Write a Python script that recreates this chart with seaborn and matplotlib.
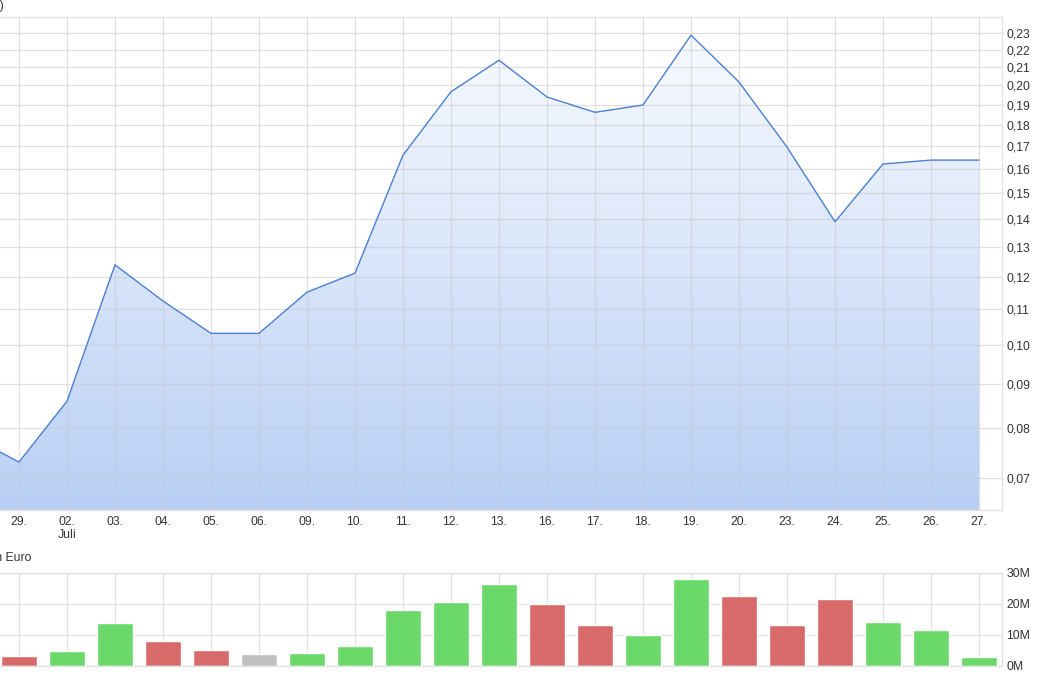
import numpy as np
import pandas as pd
import seaborn as sns
import matplotlib
matplotlib.use("Agg")
from matplotlib import pyplot as plt
from matplotlib.colors import LinearSegmentedColormap
from matplotlib.ticker import FixedLocator, NullLocator, FuncFormatter

# data (28. June is just outside the left edge)
days = ["28.", "29.", "02.\nJuli", "03.", "04.", "05.", "06.", "09.", "10.", "11.", "12.",
        "13.", "16.", "17.", "18.", "19.", "20.", "23.", "24.", "25.", "26.", "27."]
price = [0.0782, 0.0731, 0.0860, 0.1238, 0.1124, 0.1031, 0.1031, 0.1151, 0.1211, 0.1660, 0.1966,
         0.2139, 0.1939, 0.1861, 0.1898, 0.2287, 0.2018, 0.1696, 0.1389, 0.1621, 0.1638, 0.1638]
volume_m = [np.nan, 3.2, 4.6, 13.6, 7.8, 4.9, 3.6, 4.0, 6.2, 17.9, 20.5,
            26.3, 19.9, 13.1, 9.9, 27.9, 22.4, 13.1, 21.4, 13.9, 11.3, 2.6]
direction = ["up", "down", "up", "up", "down", "down", "flat", "up", "up", "up", "up",
             "up", "down", "down", "up", "up", "down", "down", "down", "up", "up", "up"]
price_ticks = [0.07, 0.08, 0.09, 0.10, 0.11, 0.12, 0.13, 0.14, 0.15, 0.16, 0.17,
               0.18, 0.19, 0.20, 0.21, 0.22, 0.23]
vol_ticks = [0, 10, 20, 30]

sns.set_style("white")
plt.rcParams["font.family"] = ["Liberation Sans", "DejaVu Sans"]

W, H = 1053, 679
fig = plt.figure(figsize=(W / 100, H / 100), dpi=100)

grid_col = "#e2e2e2"
text_col = "#333333"
fs = 8.8
x = np.arange(len(days))
xlim = (29 / 48, 1031 / 48)

df = pd.DataFrame({"day": days, "x": x, "price": price,
                   "volume": np.array(volume_m) * 1e6, "dir": direction})

# price panel
ax = fig.add_axes([0, (H - 510) / H, 1002 / W, 493 / H])
ax.set_yscale("log")
ymin, ymax = 0.0643, 0.2401

poly = ax.fill_between(df["x"], df["price"], ymin, facecolor="none", edgecolor="none")
cmap = LinearSegmentedColormap.from_list("fill", ["#b8cff5", "#fafcff"])
grad = np.linspace(0, 1, 256).reshape(-1, 1)
img = ax.imshow(grad, extent=[0, 1, 0, 1], transform=ax.transAxes, origin="lower",
                aspect="auto", cmap=cmap, zorder=1)
img.set_clip_path(poly.get_paths()[0], transform=ax.transData)

sns.lineplot(data=df, x="x", y="price", ax=ax, color="#4a7fd2", linewidth=1.0, zorder=3)

ax.yaxis.set_major_locator(FixedLocator(price_ticks))
ax.yaxis.set_minor_locator(NullLocator())
ax.yaxis.set_major_formatter(FuncFormatter(lambda v, p: f"{v:.2f}".replace(".", ",")))
ax.yaxis.tick_right()
ax.set_xticks(x)
ax.set_xticklabels([""] + days[1:])
ax.set_xlim(*xlim)
ax.set_ylim(ymin, ymax)
ax.tick_params(axis="y", length=0, pad=3, labelsize=fs, colors=text_col)
ax.tick_params(axis="x", length=3, width=0.6, color="#cccccc", pad=1,
               labelsize=fs, labelcolor=text_col)
ax.grid(True, color="#c8c8c8", alpha=0.55, linewidth=0.9, zorder=2)
ax.set_axisbelow(False)
ax.set_xlabel("")
ax.set_ylabel("")
for side, sp in ax.spines.items():
    sp.set_visible(side in ("top", "right", "bottom"))
    sp.set_color(grid_col)
    sp.set_linewidth(1.0)

fig.text(4 / W, 1 - 6 / H, "Kurs (EUR)", ha="right", va="center", fontsize=fs, color=text_col)

# volume panel
axv = fig.add_axes([0, (H - 665.5) / H, 1002 / W, 93 / H])
sns.barplot(data=df, x="day", y="volume", hue="dir", order=days,
            palette={"up": "#6ad96a", "down": "#d96a6a", "flat": "#c0c0c0"},
            saturation=1, width=0.75, dodge=False, legend=False, ax=axv, zorder=2)
axv.yaxis.set_major_locator(FixedLocator([v * 1e6 for v in vol_ticks]))
axv.yaxis.set_major_formatter(FuncFormatter(lambda v, p: f"{v / 1e6:.0f}M"))
axv.yaxis.tick_right()
axv.set_xticks(x)
axv.set_xticklabels([])
axv.set_xlim(*xlim)
axv.set_ylim(0, 30e6)
axv.tick_params(axis="y", length=0, pad=3, labelsize=fs, colors=text_col)
axv.tick_params(axis="x", length=0)
axv.grid(True, color=grid_col, linewidth=1.0, zorder=0)
axv.set_axisbelow(True)
axv.set_xlabel("")
axv.set_ylabel("")
for side, sp in axv.spines.items():
    sp.set_visible(side in ("top", "right", "bottom"))
    sp.set_color(grid_col)
    sp.set_linewidth(1.0)

fig.text(31 / W, 1 - 558 / H, "Volumen in Euro", ha="right", va="center",
         fontsize=fs, color=text_col)

fig.savefig("out.png", dpi=100)
